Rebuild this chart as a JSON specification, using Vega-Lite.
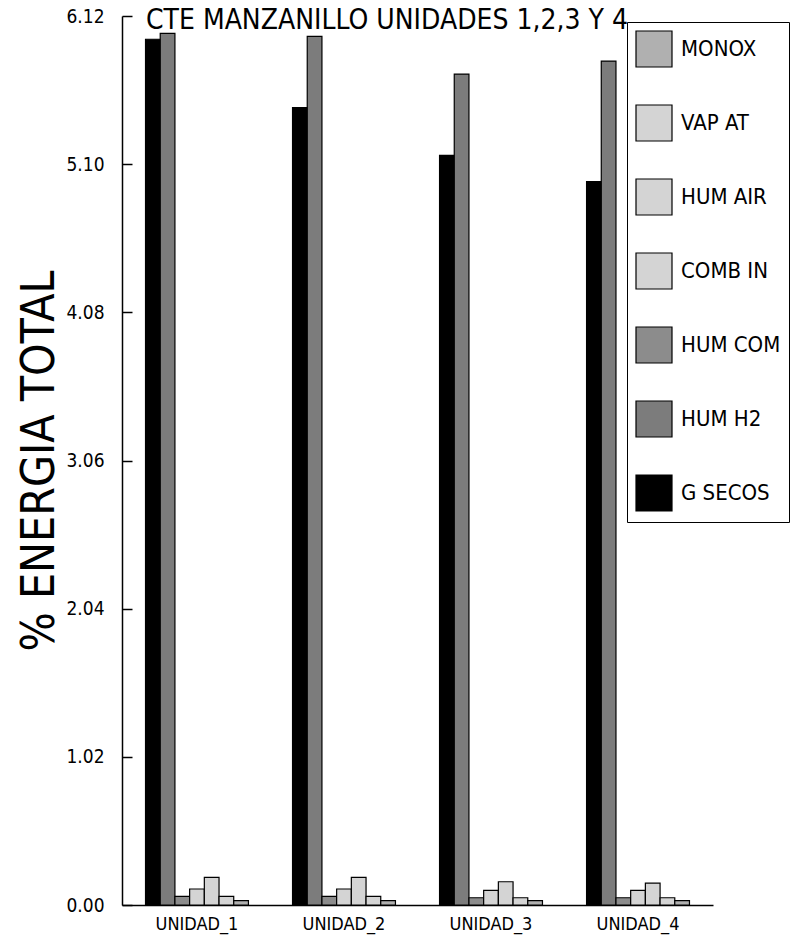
{
  "$schema": "https://vega.github.io/schema/vega-lite/v6.json",
  "width": 591,
  "height": 889,
  "autosize": "none",
  "padding": {"left": 122, "top": 16, "right": 85, "bottom": 43},
  "background": "white",
  "title": {
    "text": "CTE MANZANILLO UNIDADES 1,2,3 Y 4",
    "anchor": "start",
    "frame": "group",
    "dx": 24,
    "dy": 44,
    "fontSize": 28,
    "font": "Liberation Sans Narrow, DejaVu Sans Condensed, Roboto, sans-serif",
    "fontWeight": "normal",
    "color": "black",
    "baseline": "bottom",
    "offset": -12
  },
  "config": {
    "view": {"stroke": null},
    "font": "Liberation Sans Narrow, DejaVu Sans Condensed, Roboto, sans-serif"
  },
  "data": {
    "values": [
      {"unidad": "UNIDAD_1", "serie": "G SECOS", "valor": 5.96},
      {"unidad": "UNIDAD_1", "serie": "HUM H2", "valor": 6.0},
      {"unidad": "UNIDAD_1", "serie": "HUM COM", "valor": 0.06},
      {"unidad": "UNIDAD_1", "serie": "COMB IN", "valor": 0.11},
      {"unidad": "UNIDAD_1", "serie": "HUM AIR", "valor": 0.19},
      {"unidad": "UNIDAD_1", "serie": "VAP AT", "valor": 0.06},
      {"unidad": "UNIDAD_1", "serie": "MONOX", "valor": 0.03},
      {"unidad": "UNIDAD_2", "serie": "G SECOS", "valor": 5.49},
      {"unidad": "UNIDAD_2", "serie": "HUM H2", "valor": 5.98},
      {"unidad": "UNIDAD_2", "serie": "HUM COM", "valor": 0.06},
      {"unidad": "UNIDAD_2", "serie": "COMB IN", "valor": 0.11},
      {"unidad": "UNIDAD_2", "serie": "HUM AIR", "valor": 0.19},
      {"unidad": "UNIDAD_2", "serie": "VAP AT", "valor": 0.06},
      {"unidad": "UNIDAD_2", "serie": "MONOX", "valor": 0.03},
      {"unidad": "UNIDAD_3", "serie": "G SECOS", "valor": 5.16},
      {"unidad": "UNIDAD_3", "serie": "HUM H2", "valor": 5.72},
      {"unidad": "UNIDAD_3", "serie": "HUM COM", "valor": 0.05},
      {"unidad": "UNIDAD_3", "serie": "COMB IN", "valor": 0.1},
      {"unidad": "UNIDAD_3", "serie": "HUM AIR", "valor": 0.16},
      {"unidad": "UNIDAD_3", "serie": "VAP AT", "valor": 0.05},
      {"unidad": "UNIDAD_3", "serie": "MONOX", "valor": 0.03},
      {"unidad": "UNIDAD_4", "serie": "G SECOS", "valor": 4.98},
      {"unidad": "UNIDAD_4", "serie": "HUM H2", "valor": 5.81},
      {"unidad": "UNIDAD_4", "serie": "HUM COM", "valor": 0.05},
      {"unidad": "UNIDAD_4", "serie": "COMB IN", "valor": 0.1},
      {"unidad": "UNIDAD_4", "serie": "HUM AIR", "valor": 0.15},
      {"unidad": "UNIDAD_4", "serie": "VAP AT", "valor": 0.05},
      {"unidad": "UNIDAD_4", "serie": "MONOX", "valor": 0.03}
    ]
  },
  "mark": {"type": "bar", "stroke": "black", "strokeWidth": 1.2},
  "encoding": {
    "x": {
      "field": "unidad",
      "type": "nominal",
      "scale": {"paddingInner": 0.3, "paddingOuter": 0.16},
      "axis": {
        "title": null,
        "labelAngle": 0,
        "labelFontSize": 18,
        "labelColor": "black",
        "labelPadding": 10,
        "ticks": false,
        "domainColor": "black",
        "domainWidth": 1.5
      }
    },
    "xOffset": {
      "field": "serie",
      "type": "nominal",
      "scale": {"domain": ["G SECOS", "HUM H2", "HUM COM", "COMB IN", "HUM AIR", "VAP AT", "MONOX"], "paddingInner": 0}
    },
    "y": {
      "field": "valor",
      "type": "quantitative",
      "scale": {"domain": [0, 6.12], "nice": false, "zero": true},
      "axis": {
        "values": [0, 1.02, 2.04, 3.06, 4.08, 5.1, 6.12],
        "format": ".2f",
        "grid": false,
        "title": "% ENERGIA TOTAL",
        "titleFontSize": 46,
        "titleFontWeight": "normal",
        "titleColor": "black",
        "titlePadding": 2,
        "labelFontSize": 19,
        "labelColor": "black",
        "labelPadding": 28,
        "tickSize": -10,
        "tickColor": "black",
        "tickWidth": 1.5,
        "domainColor": "black",
        "domainWidth": 1.5
      }
    },
    "color": {
      "field": "serie",
      "type": "nominal",
      "scale": {
        "domain": ["MONOX", "VAP AT", "HUM AIR", "COMB IN", "HUM COM", "HUM H2", "G SECOS"],
        "range": ["#b0b0b0", "#d4d4d4", "#d4d4d4", "#d4d4d4", "#8c8c8c", "#7c7c7c", "#000000"]
      },
      "legend": {
        "title": null,
        "orient": "none",
        "legendX": 505,
        "legendY": 6,
        "symbolType": "square",
        "symbolSize": 1296,
        "symbolStrokeColor": "black",
        "symbolStrokeWidth": 1.2,
        "symbolOpacity": 1,
        "rowPadding": 32,
        "labelFontSize": 22,
        "labelColor": "black",
        "labelOffset": 8,
        "padding": 8,
        "strokeColor": "black",
        "fillColor": "white",
        "labelLimit": 200,
        "columnPadding": 0
      }
    }
  }
}
